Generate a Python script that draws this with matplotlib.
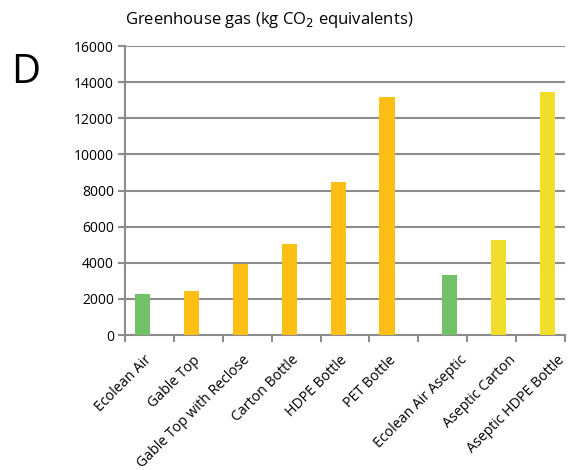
import numpy as np
import matplotlib.pyplot as plt
import matplotlib.transforms as mtransforms

plt.rcParams['font.family'] = ['Open Sans', 'DejaVu Sans']

categories = ["Ecolean Air", "Gable Top", "Gable Top with Reclose", "Carton Bottle",
              "HDPE Bottle", "PET Bottle", "Ecolean Air Aseptic", "Aseptic Carton",
              "Aseptic HDPE Bottle"]
values = [2300, 2450, 3950, 5050, 8500, 13200, 3300, 5250, 13450]
colors = ["#70c167", "#fdbf13", "#fdbf13", "#fdbf13", "#fdbf13", "#fdbf13",
          "#70c167", "#f1de2a", "#f1de2a"]
# first six are one series, last three another (excel grouped bars)
offsets = [-0.14] * 6 + [0.14] * 3

fig = plt.figure(figsize=(5.75, 4.7), dpi=100)
ax = fig.add_axes([0.2174, 0.287, 0.765, 0.615])

x = np.arange(len(categories))
ax.bar(x + np.array(offsets), values, width=0.31, color=colors, zorder=3)

ax.set_ylim(0, 16000)
ax.set_xlim(-0.5, len(categories) - 0.5)
ax.set_yticks(np.arange(0, 16001, 2000))
ax.yaxis.grid(True, color="#8c8c8c", lw=1.5, zorder=0)
ax.tick_params(axis='y', labelsize=10, color="#8c8c8c", width=1.5, length=5, pad=3)

ax.set_xticks(x)
ax.set_xticklabels(categories, rotation=45, ha='right', va='center',
                   rotation_mode='anchor', fontsize=10.2)
ax.tick_params(axis='x', which='major', length=0, pad=16.5)
ax.set_xticks(np.arange(-0.5, len(categories)), minor=True)
ax.tick_params(axis='x', which='minor', length=5, width=1.5, color="#8c8c8c")

# labels of the aseptic group sit half a category to the right in the original
for i, lab in enumerate(ax.get_xticklabels()):
    dx = 0 if i < 6 else 22
    lab.set_transform(lab.get_transform() + mtransforms.ScaledTranslation(dx / 100, 0, fig.dpi_scale_trans))

for s in ["top", "right"]:
    ax.spines[s].set_visible(False)
for s in ["left", "bottom"]:
    ax.spines[s].set_color("#8c8c8c")
    ax.spines[s].set_linewidth(1.5)

fig.text(0.217, 0.957, "Greenhouse gas (kg CO$_2$ equivalents)", fontsize=12, ha='left', va='center')
fig.text(0.02, 0.846, "D", fontsize=29, ha='left', va='center')

fig.savefig("out.png", dpi=100)
